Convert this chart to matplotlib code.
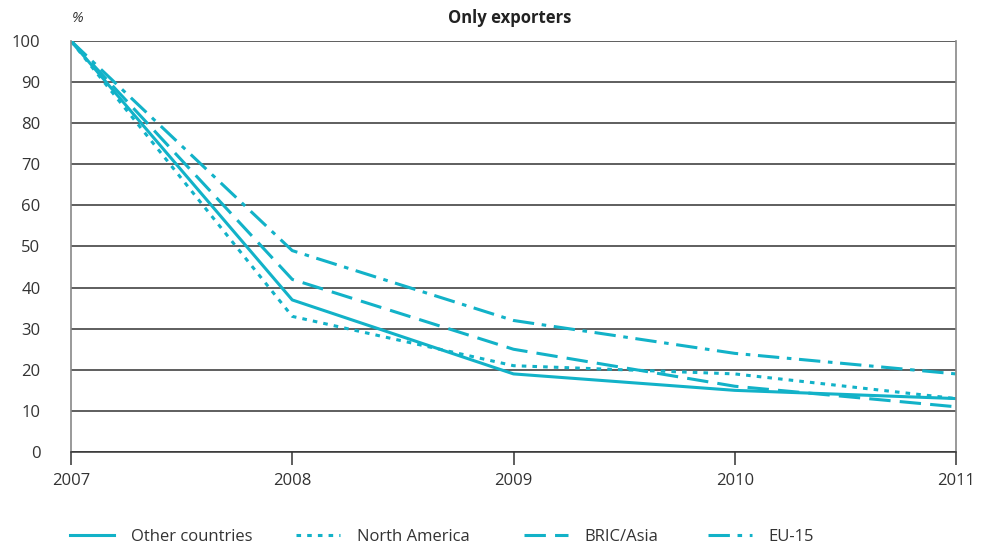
import numpy as np
import matplotlib
matplotlib.use('Agg')
import matplotlib.pyplot as plt

# data
years = [2007, 2008, 2009, 2010, 2011]
other = [100, 37, 19, 15, 13]
north_america = [100, 33, 21, 19, 13]
bric_asia = [100, 42, 25, 16, 11]
eu15 = [100, 49, 32, 24, 19]
labels = ['Other countries', 'North America', 'BRIC/Asia', 'EU-15']

teal = '#12b2c8'
txt = '#333333'
plt.rcParams['font.family'] = ['Open Sans', 'DejaVu Sans']

fig = plt.figure(figsize=(9.84, 5.49), dpi=100)
ax = fig.add_axes([71/984, 1-452/549, (956-71)/984, (452-41)/549])

lw = 2.2
l1, = ax.plot(years, other, color=teal, lw=lw)
l2, = ax.plot(years, north_america, color=teal, lw=lw, dashes=(1.5, 2.0))
l3, = ax.plot(years, bric_asia, color=teal, lw=lw, dashes=(7, 3))
l4, = ax.plot(years, eu15, color=teal, lw=lw, dashes=(7, 2.5, 1.5, 2.5))

ax.set_xlim(2007, 2011)
ax.set_ylim(0, 100)
ax.set_yticks(np.arange(0, 101, 10))
ax.set_xticks(years)
ax.yaxis.grid(True, color='#333333', lw=1.1)
ax.set_axisbelow(True)
for s in ['left', 'right']:
    ax.spines[s].set_color('#888888')
    ax.spines[s].set_linewidth(1.2)
ax.spines['top'].set_visible(False)
ax.spines['bottom'].set_color('#333333')
ax.spines['bottom'].set_linewidth(1.1)
ax.tick_params(axis='y', length=0, pad=22, labelsize=12, labelcolor=txt)
ax.tick_params(axis='x', length=9, width=1.1, color='#333333', pad=6, labelsize=12, labelcolor=txt)

fig.text(72/984, 1-18/549, '%', style='italic', fontsize=10.5, ha='left', va='center', color=txt)
fig.text(510/984, 1-18/549, 'Only exporters', fontweight='bold', fontsize=12, ha='center', va='center', color='#222222')

# one legend per entry, placed like the reference
handles = [l1, l2, l3, l4]
starts = [68, 294, 522, 706]
for h, lab, x0 in zip(handles, labels, starts):
    leg = fig.legend([h], [lab], loc='center left', bbox_to_anchor=((x0-13)/984, 1-537/549),
                     frameon=False, fontsize=12, handlelength=2.65, handletextpad=1.0)
    for t in leg.get_texts():
        t.set_color(txt)

fig.savefig('out.png', dpi=100)
